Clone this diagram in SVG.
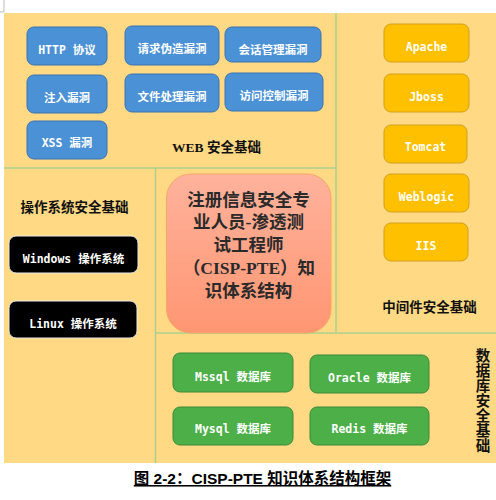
<svg xmlns="http://www.w3.org/2000/svg" width="496" height="500" viewBox="0 0 496 500">
<defs>
<linearGradient id="gc" x1="0" y1="0" x2="0" y2="1">
<stop offset="0" stop-color="#ffb29c"/>
<stop offset="1" stop-color="#ff9672"/>
</linearGradient>
<style>
.bl{fill:#4b91d6;stroke:#3b73b0;stroke-width:1}
.or{fill:#ffc000;stroke:#d2a020;stroke-width:1}
.gr{fill:#4caf48;stroke:#3c8a38;stroke-width:1}
.bk{fill:#000;stroke:#e8e8e8;stroke-width:1}
.lb{font-family:"DejaVu Sans Mono","Noto Sans CJK SC",monospace;font-size:11.5px;font-weight:bold;fill:#fff;text-anchor:middle;dominant-baseline:central}
.hd{font-family:"Liberation Serif","Noto Sans CJK SC",serif;font-size:13.5px;font-weight:bold;fill:#111;text-anchor:middle;dominant-baseline:central}
.ct{font-family:"Liberation Serif","Noto Sans CJK SC",serif;font-size:17.5px;font-weight:bold;fill:#2a2a2a;text-anchor:middle;dominant-baseline:central}
.dv{stroke:#a9d18e;stroke-width:1.5;fill:none}
</style>
</defs>
<rect x="0" y="0" width="496" height="500" fill="#fff"/>
<path d="M4 0V12H0" stroke="#aaa" stroke-width="0.8" fill="none"/>
<rect x="4" y="13" width="492" height="450" fill="#ffd983"/>
<g id="connectors">
<line class="dv" x1="4" y1="168" x2="336" y2="168"/>
<line class="dv" x1="336" y1="13" x2="336" y2="333"/>
<line class="dv" x1="155.5" y1="168" x2="155.5" y2="463"/>
<line class="dv" x1="155.5" y1="333" x2="496" y2="333"/>
</g>
<g id="web">
<text class="hd" x="216.5" y="147">WEB 安全基础</text>
</g>
<g id="http"><rect class="bl" x="27" y="27" width="80" height="38" rx="7"/><text class="lb" x="67" y="50">HTTP 协议</text></g>
<g id="inject"><rect class="bl" x="27" y="75" width="80" height="38" rx="7"/><text class="lb" x="67" y="98">注入漏洞</text></g>
<g id="xss"><rect class="bl" x="27" y="121" width="80" height="38" rx="7"/><text class="lb" x="67" y="143">XSS 漏洞</text></g>
<g id="csrf"><rect class="bl" x="125" y="26" width="94" height="39" rx="7"/><text class="lb" x="172" y="49">请求伪造漏洞</text></g>
<g id="file"><rect class="bl" x="125" y="74" width="94" height="38" rx="7"/><text class="lb" x="172" y="97">文件处理漏洞</text></g>
<g id="session"><rect class="bl" x="225" y="27" width="96" height="35" rx="7"/><text class="lb" x="273" y="50">会话管理漏洞</text></g>
<g id="access"><rect class="bl" x="225" y="73" width="98" height="38" rx="7"/><text class="lb" x="274" y="96">访问控制漏洞</text></g>
<g id="middleware">
<text class="hd" x="429.5" y="307">中间件安全基础</text>
</g>
<g id="apache"><rect class="or" x="384" y="24" width="85" height="38" rx="7"/><text class="lb" x="426.5" y="47">Apache</text></g>
<g id="jboss"><rect class="or" x="384" y="74" width="85" height="38" rx="7"/><text class="lb" x="426.5" y="97">Jboss</text></g>
<g id="tomcat"><rect class="or" x="384" y="125" width="83" height="38" rx="7"/><text class="lb" x="425.5" y="147">Tomcat</text></g>
<g id="weblogic"><rect class="or" x="384" y="174" width="85" height="38" rx="7"/><text class="lb" x="426.5" y="197">Weblogic</text></g>
<g id="iis"><rect class="or" x="384" y="223" width="84" height="38" rx="7"/><text class="lb" x="426" y="246">IIS</text></g>
<g id="os">
<text class="hd" x="74.5" y="207">操作系统安全基础</text>
</g>
<g id="windows"><rect class="bk" x="9" y="236" width="129" height="37" rx="7"/><text class="lb" x="73.5" y="259">Windows 操作系统</text></g>
<g id="linux"><rect class="bk" x="9" y="301" width="128" height="37" rx="7"/><text class="lb" x="73" y="324">Linux 操作系统</text></g>
<g id="center">
<rect x="166.5" y="174" width="164.5" height="159" rx="24" fill="url(#gc)" stroke="#f7a86a" stroke-width="1"/>
<text class="ct" x="248.5" y="200">注册信息安全专</text>
<text class="ct" x="248.5" y="222">业人员-渗透测</text>
<text class="ct" x="248.5" y="245">试工程师</text>
<text class="ct" x="249" y="268">（CISP-PTE）知</text>
<text class="ct" x="248.5" y="291">识体系结构</text>
</g>
<g id="database">
<text class="hd" style="font-size:14.5px" x="483" y="0"><tspan x="483" y="356">数</tspan><tspan x="483" y="371">据</tspan><tspan x="483" y="386">库</tspan><tspan x="483" y="401">安</tspan><tspan x="483" y="416">全</tspan><tspan x="483" y="431">基</tspan><tspan x="483" y="446">础</tspan></text>
</g>
<g id="mssql"><rect class="gr" x="173" y="353" width="120" height="39" rx="7"/><text class="lb" x="233" y="377">Mssql 数据库</text></g>
<g id="mysql"><rect class="gr" x="173" y="407" width="120" height="38" rx="7"/><text class="lb" x="233" y="429">Mysql 数据库</text></g>
<g id="oracle"><rect class="gr" x="310" y="355" width="119" height="38" rx="7"/><text class="lb" x="369.5" y="378">Oracle 数据库</text></g>
<g id="redis"><rect class="gr" x="310" y="407" width="119" height="38" rx="7"/><text class="lb" x="369.5" y="429">Redis 数据库</text></g>
<g id="caption">
<text x="262.5" y="484" font-family="Liberation Sans,Noto Sans CJK SC,sans-serif" font-size="15.5" font-weight="bold" fill="#000" text-anchor="middle" text-decoration="underline">图 2-2：CISP-PTE 知识体系结构框架</text>
</g>
</svg>
